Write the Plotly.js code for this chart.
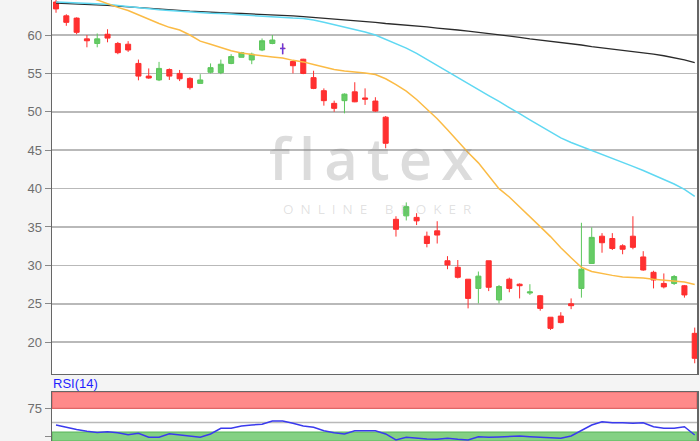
<!DOCTYPE html>
<html>
<head>
<meta charset="utf-8">
<script src="https://cdn.plot.ly/plotly-3.0.1.min.js"></script>
<style>
html,body{margin:0;padding:0;background:#f4f4f4;}
#chart{width:700px;height:441px;}
</style>
</head>
<body>
<div id="chart"></div>
<script>
// OHLC per trading day (63 sessions)
const open  = [64.3,62.5,62.2,59.5,58.9,60.1,58.9,58.8,56.3,54.65,54.15,55.5,55.0,54.35,53.7,55.15,55.1,56.3,57.1,56.75,58.05,58.9,58.25,56.55,56.85,54.45,52.75,51.1,51.45,52.6,51.8,51.4,49.3,36.0,36.45,36.25,33.8,34.5,30.6,29.75,28.2,27.0,30.6,25.5,28.2,27.55,26.4,26.05,23.25,23.4,25.0,27.0,30.25,33.8,33.5,32.55,33.8,31.1,29.1,27.65,27.65,27.35,21.15];
const high  = [64.6,62.7,62.3,60.0,60.2,60.75,59.1,59.2,56.8,55.65,56.5,55.65,55.45,54.5,54.9,56.3,56.8,57.5,57.8,57.7,59.55,60.0,58.9,56.6,56.9,55.35,53.05,51.45,52.4,53.85,53.05,51.9,49.45,36.4,38.2,36.8,34.4,35.75,31.2,30.7,28.2,29.2,30.6,27.45,28.4,27.65,27.55,26.15,23.25,23.9,25.7,35.55,34.95,34.2,34.2,32.75,36.4,31.85,29.3,28.95,28.75,27.45,21.9];
const low   = [62.9,61.2,60.1,58.4,58.4,59.05,57.5,57.8,54.1,54.3,54.0,54.15,54.0,52.9,53.7,55.0,54.9,56.2,57.1,56.2,57.9,58.8,57.5,55.0,54.9,52.95,50.8,50.0,49.8,51.25,50.9,50.0,45.25,33.75,35.85,35.25,32.35,32.85,29.5,28.3,24.4,25.05,26.65,25.05,26.5,25.7,26.15,24.1,21.6,22.45,24.3,25.8,30.25,31.65,32.0,31.45,32.1,29.3,27.0,27.0,27.45,25.8,17.25];
const close = [63.4,61.65,60.35,59.25,59.5,59.6,57.7,58.05,54.65,54.4,55.65,54.65,54.3,53.15,54.15,55.75,56.2,57.2,57.7,57.5,59.25,59.35,58.25,56.0,55.0,53.05,51.45,50.45,52.3,51.3,51.65,50.1,45.9,34.7,37.65,35.8,32.85,33.95,30.05,28.45,25.7,28.6,27.15,27.25,27.0,27.35,26.55,24.4,21.8,22.55,24.75,29.5,33.65,32.95,32.2,32.1,32.35,29.4,28.1,27.2,28.55,26.15,17.9];

// Moving averages
const maShort = [66.5,66.0,65.5,65.0,64.55,64.0,63.6,63.2,62.6,62.0,61.5,61.0,60.65,60.0,59.2,58.8,58.35,57.95,57.65,57.45,57.3,57.15,57.0,56.7,56.5,56.15,55.8,55.5,55.3,55.2,55.05,54.85,54.3,53.55,52.7,51.6,50.4,49.1,47.65,46.1,44.7,43.35,41.7,40.0,38.9,37.65,36.35,35.05,33.75,32.3,31.0,29.75,29.2,28.9,28.7,28.5,28.45,28.35,28.2,28.1,28.0,27.85,27.5];
const maMid   = [64.3,64.25,64.2,64.15,64.1,64.0,63.85,63.7,63.55,63.4,63.3,63.2,63.1,63.0,62.9,62.85,62.8,62.7,62.6,62.55,62.45,62.35,62.3,62.2,62.15,61.95,61.65,61.35,61.05,60.75,60.4,60.0,59.45,58.85,58.3,57.6,56.8,56.0,55.2,54.4,53.6,52.85,52.1,51.35,50.6,49.75,48.95,48.15,47.35,46.6,46.0,45.5,45.0,44.5,44.0,43.45,42.9,42.35,41.8,41.2,40.6,39.9,39.0];
const maLong  = [64.15,64.1,64.05,64.0,63.95,63.85,63.75,63.65,63.55,63.45,63.35,63.25,63.2,63.1,63.05,62.95,62.9,62.85,62.8,62.75,62.7,62.6,62.55,62.5,62.4,62.3,62.2,62.1,61.95,61.85,61.75,61.65,61.5,61.4,61.3,61.15,61.05,60.9,60.8,60.65,60.5,60.35,60.2,60.0,59.85,59.7,59.5,59.35,59.15,59.0,58.85,58.7,58.5,58.35,58.2,58.05,57.85,57.7,57.5,57.3,57.05,56.75,56.4];

// RSI(14)
const rsi = [45.6,41,37.5,34.5,32.5,33.8,32,28.5,31,24,24,30,28,26,24,29.8,39.8,39.8,43.8,45.6,46.8,52.6,52.6,48.6,43.8,41.5,35.6,32,29.8,35.6,35.6,35.6,29.8,19.2,23.9,22.2,21,20.4,22.2,20.4,19.2,25,23.9,24.5,25,26.2,25,23.9,22.2,22.2,26.2,35.6,45.6,51.4,49.6,49.6,48.6,49.6,42.6,39.8,39.8,42.6,28];

const dojiIndex = [22];
const priceTicks = [20,25,30,35,40,45,50,55,60];
const rsiTicks = [25,75];

const x = open.map((_, i) => i);
const dx = dojiIndex;

const traces = [
  {type:'candlestick', x:x, open:open, high:high, low:low, close:close,
   xaxis:'x', yaxis:'y', hoverinfo:'skip', whiskerwidth:0,
   increasing:{line:{color:'#5cc65c', width:1}, fillcolor:'#66cc66'},
   decreasing:{line:{color:'#ff2e2e', width:1}, fillcolor:'#ff3030'}},
  {type:'candlestick', x:dx, open:dx.map(i=>open[i]), high:dx.map(i=>high[i]), low:dx.map(i=>low[i]), close:dx.map(i=>close[i]),
   xaxis:'x', yaxis:'y', hoverinfo:'skip', whiskerwidth:0,
   increasing:{line:{color:'#6a3ad8', width:1.5}, fillcolor:'#6a3ad8'},
   decreasing:{line:{color:'#6a3ad8', width:1.5}, fillcolor:'#6a3ad8'}},
  {type:'scatter', mode:'lines', x:x, y:maLong, line:{color:'#2b2b2b', width:1.3}, xaxis:'x', yaxis:'y', hoverinfo:'skip'},
  {type:'scatter', mode:'lines', x:x, y:maMid, line:{color:'#5fd8f2', width:1.5}, xaxis:'x', yaxis:'y', hoverinfo:'skip'},
  {type:'scatter', mode:'lines', x:x, y:maShort, line:{color:'#fbbb45', width:1.5}, xaxis:'x', yaxis:'y', hoverinfo:'skip'},
  {type:'scatter', mode:'lines', x:x, y:rsi, line:{color:'#3a3aee', width:1.5}, xaxis:'x2', yaxis:'y2', hoverinfo:'skip'}
];

const tickFont = {family:'Liberation Sans, Arial, sans-serif', size:13, color:'#6e6e6e'};
const xr = [-0.39, 62.22];
const layout = {
  width:700, height:441,
  margin:{l:52, r:3, t:0, b:0},
  paper_bgcolor:'#f4f4f4', plot_bgcolor:'#ffffff',
  showlegend:false,
  xaxis:{domain:[0,1], range:xr, showticklabels:false, ticks:'', showgrid:false, zeroline:false,
         showline:true, linecolor:'#666', linewidth:1.5, rangeslider:{visible:false}, anchor:'y'},
  yaxis:{domain:[0.152,1], range:[15.86,64.56], tickvals:priceTicks, ticktext:priceTicks.map(String),
         ticks:'outside', ticklen:6, tickcolor:'#888', tickfont:tickFont,
         showgrid:true, gridcolor:'#b9b9b9', gridwidth:1.6, zeroline:false,
         showline:true, mirror:true, linecolor:'#666', linewidth:1.5, anchor:'x'},
  xaxis2:{domain:[0,1], range:xr, showticklabels:false, ticks:'', showgrid:false, zeroline:false,
          showline:true, mirror:true, linecolor:'#666', linewidth:1.5, anchor:'y2'},
  yaxis2:{domain:[0,0.1111], range:[17.4,103.7], tickvals:rsiTicks, ticktext:rsiTicks.map(String),
          ticks:'outside', ticklen:6, tickcolor:'#888', tickfont:tickFont,
          showgrid:false, zeroline:false, showline:true, mirror:true, linecolor:'#666', linewidth:1.5, anchor:'x2'},
  shapes:[
    {type:'rect', xref:'x2 domain', yref:'y2', x0:0, x1:1, y0:75, y1:103.7, fillcolor:'#ff8a8a', line:{color:'#e06666', width:1.2}, layer:'below'},
    {type:'rect', xref:'x2 domain', yref:'y2', x0:0, x1:1, y0:17.4, y1:33, fillcolor:'#84d184', line:{color:'#5cb85c', width:1.2}, layer:'below'},
    {type:'line', xref:'x2 domain', yref:'y2', x0:0, x1:1, y0:50, y1:50, line:{color:'#b9b9b9', width:1.5}, layer:'below'}
  ],
  annotations:[
    {xref:'paper', yref:'paper', x:0.502, y:0.643, xanchor:'center', yanchor:'middle', showarrow:false,
     text:'<span style="letter-spacing:9px">flatex</span>', font:{family:'Open Sans, sans-serif', size:58, weight:600, color:'rgba(130,130,130,0.28)'}},
    {xref:'paper', yref:'paper', x:0.51, y:0.527, xanchor:'center', yanchor:'middle', showarrow:false,
     text:'<span style="letter-spacing:7px">ONLINE BROKER</span>', font:{family:'Open Sans, sans-serif', size:13.5, color:'rgba(140,140,140,0.26)'}},
    {xref:'paper', yref:'paper', x:0, y:0.1293, xanchor:'left', yanchor:'middle', xshift:-1, showarrow:false,
     text:'RSI(14)', font:{family:'Liberation Sans, Arial, sans-serif', size:13, color:'#1f1fff'}},
    {xref:'paper', yref:'y', x:0, y:65, xanchor:'right', yanchor:'middle', xshift:-8, showarrow:false,
     text:'65', font:tickFont}
  ]
};

Plotly.newPlot('chart', traces, layout, {staticPlot:true, displayModeBar:false});
</script>
</body>
</html>
